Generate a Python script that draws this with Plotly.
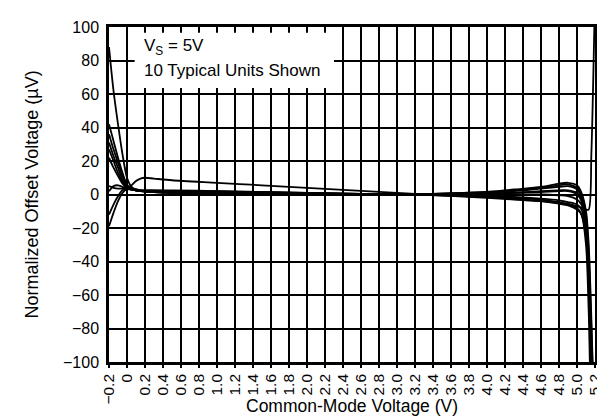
import plotly.graph_objects as go

# Common-mode voltage sample points (V)
vcm = [-0.2, -0.15, -0.1, -0.05, 0.0, 0.05, 0.1, 0.15, 0.2, 0.3, 0.5, 1.0, 1.5, 2.0, 2.5,
       3.0, 3.5, 4.0, 4.3, 4.6, 4.8, 4.9, 5.0, 5.05, 5.1, 5.13, 5.16, 5.2]

# Normalized offset voltage (uV) for 10 typical units
unit1 = [88, 62, 42, 24, 10, 4.5, 3, 2.5, 2.5, 2.5, 2.5, 2, 1.5, 1, 0.5, 0, 0.5, 1.5, 2.5, 4, 5.5, 6, 4, 0, -12, -35, -80, -150]
unit2 = [42, 32, 22, 13, 6, 3.5, 3, 2.5, 2.5, 2.5, 2, 2, 1.5, 1, 0.5, 0, 0.5, 1, 2, 3.5, 4.5, 5, 3, -2, -15, -40, -90, -150]
unit3 = [36, 27, 19, 11, 5, 3.5, 3, 2.5, 2, 2, 2, 1.5, 1, 0.5, 0, 0, 0.5, 1.5, 3, 4.5, 6.5, 7, 5.5, 1, -10, -30, -75, -150]
unit4 = [31, 23, 16, 9, 4.5, 3, 2.5, 2, 2, 2, 1.5, 1.5, 1, 0.5, 0, 0, 0, 0.5, 1, 2, 2.5, 2.5, 1, -3, -18, -45, -100, -150]
unit5 = [27, 20, 13, 7.5, 4, 3, 2.5, 2, 2, 1.5, 1.5, 1, 0.5, 0.5, 0, 0, 0, 0, 0, 0, -0.5, -1, -3, -6, -20, -50, -110, -150]
unit6 = [22, 16, 11, 6.5, 4, 5.5, 8, 9.5, 10, 9.5, 8.5, 7, 5.5, 4, 2.5, 1, -0.5, -2, -3, -4, -5, -6, -8, -12, -25, -55, -110, -150]
unit7 = [2, 5, 5.5, 4.5, 3.5, 3, 2.5, 2, 2, 1.5, 1.5, 1, 0.5, 0.5, 0, 0, -0.5, -1, -1.5, -2.5, -3.5, -4.5, -6, -9, -22, -55, -110, -150]
unit8 = [-12, -6, -1, 2.5, 3.5, 3, 2.5, 2, 2, 1.5, 1, 1, 0.5, 0, 0, 0, -0.5, -1.5, -2.5, -4, -5.5, -6.5, -9, -12, -30, -70, -130, -150]
unit9 = [-19, -11, -4, 1, 3, 3, 2.5, 2, 1.5, 1.5, 1, 0.5, 0.5, 0, 0, 0, -0.5, -1, -2, -3, -4.5, -5.5, -7, -8, -9, -9, 25, 120]
unit10 = [5, 4, 3.5, 3.5, 3.5, 3, 2.5, 2, 2, 1.5, 1, 1, 0.5, 0, 0, 0, 0, 0.5, 1, 1.5, 2, 2, 0, -4, -18, -45, -100, -150]

units = [unit1, unit2, unit3, unit4, unit5, unit6, unit7, unit8, unit9, unit10]

x_tickvals = [-0.2, 0, 0.2, 0.4, 0.6, 0.8, 1.0, 1.2, 1.4, 1.6, 1.8, 2.0, 2.2, 2.4, 2.6, 2.8,
              3.0, 3.2, 3.4, 3.6, 3.8, 4.0, 4.2, 4.4, 4.6, 4.8, 5.0, 5.2]
x_ticktext = ["−0.2", "0", "0.2", "0.4", "0.6", "0.8", "1.0", "1.2", "1.4", "1.6", "1.8", "2.0",
              "2.2", "2.4", "2.6", "2.8", "3.0", "3.2", "3.4", "3.6", "3.8", "4.0", "4.2", "4.4",
              "4.6", "4.8", "5.0", "5.2"]
y_tickvals = [-100, -80, -60, -40, -20, 0, 20, 40, 60, 80, 100]
y_ticktext = ["−100", "−80", "−60", "−40", "−20", "0", "20", "40", "60", "80", "100"]

FONT = "Liberation Sans, Arial, Helvetica, sans-serif"

fig = go.Figure()
for u in units:
    fig.add_trace(go.Scatter(x=vcm, y=u, mode="lines",
                             line=dict(color="black", width=1.8, shape="spline", smoothing=0.8),
                             showlegend=False, hoverinfo="skip"))

fig.update_layout(
    width=605, height=416,
    margin=dict(l=101, r=10, t=19, b=62),
    paper_bgcolor="white", plot_bgcolor="white",
    font=dict(family=FONT, size=16, color="black"),
    showlegend=False,
)
fig.update_xaxes(
    range=[-0.2, 5.2], tickvals=x_tickvals, ticktext=x_ticktext, tickangle=-90,
    showgrid=True, gridcolor="black", gridwidth=2, zeroline=False,
    showline=True, linecolor="black", linewidth=2.5, mirror=True,
    ticks="outside", ticklen=3, tickwidth=2, tickcolor="black",
    tickfont=dict(size=15.5),
)
fig.update_yaxes(
    range=[-100, 100], tickvals=y_tickvals, ticktext=y_ticktext,
    showgrid=True, gridcolor="black", gridwidth=2, zeroline=False,
    showline=True, linecolor="black", linewidth=2.5, mirror=True,
    ticks="", tickfont=dict(size=16), ticklabelstandoff=4,
)

# white label box masking the grid
fig.add_shape(type="rect", xref="x", yref="y", x0=0.085, x1=2.3, y0=63.6, y1=96.5,
              fillcolor="white", line=dict(width=0), layer="between")

fig.add_annotation(x=0.17, y=88, xref="x", yref="y", xanchor="left", yanchor="middle",
                   text="V<sub>S</sub> = 5V", showarrow=False, font=dict(size=17))
fig.add_annotation(x=0.17, y=74.3, xref="x", yref="y", xanchor="left", yanchor="middle",
                   text="10 Typical Units Shown", showarrow=False, font=dict(size=17))

# axis titles
fig.add_annotation(x=0.5, y=0, xref="paper", yref="paper", xanchor="center", yanchor="middle",
                   yshift=-44, text="Common-Mode Voltage (V)", showarrow=False, font=dict(size=17.5))
fig.add_annotation(x=0, y=0.5, xref="paper", yref="paper", xanchor="center", yanchor="middle",
                   xshift=-78, textangle=-90, text="Normalized Offset Voltage (µV)",
                   showarrow=False, font=dict(size=18))

fig.write_html("out.html")
